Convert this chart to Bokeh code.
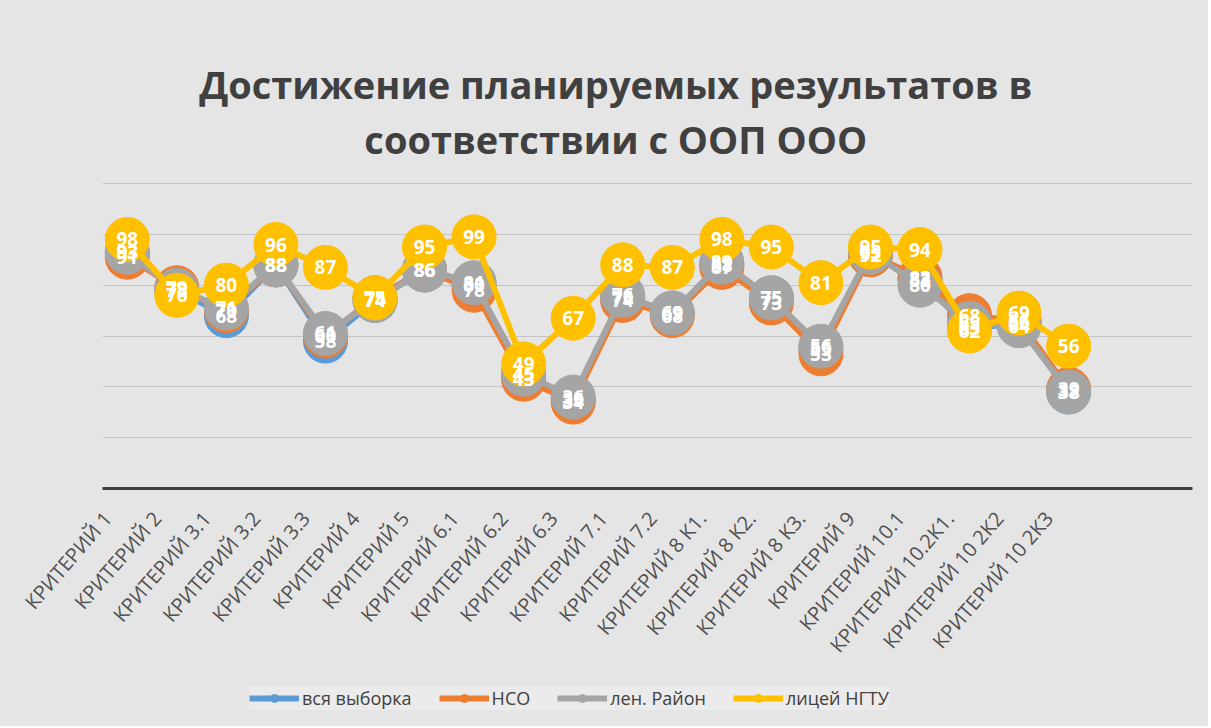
from bokeh.plotting import figure
from bokeh.layouts import column
from bokeh.models import (Range1d, FixedTicker, Label, Legend, LegendItem, ColumnDataSource)
from bokeh.core.properties import value
from bokeh.embed import file_html
from bokeh.resources import INLINE

categories = ["КРИТЕРИЙ 1", "КРИТЕРИЙ 2", "КРИТЕРИЙ 3.1", "КРИТЕРИЙ 3.2", "КРИТЕРИЙ 3.3",
              "КРИТЕРИЙ 4", "КРИТЕРИЙ 5", "КРИТЕРИЙ 6.1", "КРИТЕРИЙ 6.2", "КРИТЕРИЙ 6.3",
              "КРИТЕРИЙ 7.1", "КРИТЕРИЙ 7.2", "КРИТЕРИЙ 8 К1.", "КРИТЕРИЙ 8 К2.", "КРИТЕРИЙ 8 К3.",
              "КРИТЕРИЙ 9", "КРИТЕРИЙ 10.1", "КРИТЕРИЙ 10.2К1.", "КРИТЕРИЙ 10 2К2", "КРИТЕРИЙ 10 2К3"]

vsya_vyborka = [93, 78, 68, 88, 58, 74, 86, 80, 45, 35, 75, 69, 88, 75, 55, 92, 82, 63, 65, 38]
nso          = [91, 79, 70, 88, 60, 75, 86, 78, 43, 34, 74, 68, 87, 73, 53, 92, 83, 68, 66, 39]
len_rayon    = [93, 78, 71, 88, 61, 74, 86, 81, 45, 36, 76, 69, 89, 75, 56, 93, 80, 65, 64, 38]
litsey_ngtu  = [98, 76, 80, 96, 87, 75, 95, 99, 49, 67, 88, 87, 98, 95, 81, 95, 94, 62, 69, 56]

series_names = ["вся выборка", "НСО", "лен. Район", "лицей НГТУ"]
series_values = [vsya_vyborka, nso, len_rayon, litsey_ngtu]
series_colors = ["#5B9BD5", "#ED7D31", "#A5A5A5", "#FFC000"]

grid_values = [20, 40, 60, 80, 100, 120]

title_lines = ["Достижение планируемых результатов в", "соответствии с ООП ООО"]

FONT = "Open Sans"
BG = "#e5e5e5"

xs = list(range(len(categories)))
LABEL_SHIFT = 0.4
tick_pos = [i - LABEL_SHIFT for i in xs]

# ---------- main chart ----------
p = figure(width=1208, height=670, output_backend="svg", toolbar_location=None,
           x_range=Range1d(-0.5, 21.5), y_range=Range1d(0, 192),
           min_border_left=102, min_border_right=16, min_border_top=0, min_border_bottom=182)

p.background_fill_alpha = 0
p.border_fill_color = BG
p.outline_line_color = None

p.yaxis.visible = False
p.xgrid.visible = False
p.ygrid.ticker = FixedTicker(ticks=grid_values)
p.ygrid.grid_line_color = "#c4c4c4"
p.ygrid.grid_line_width = 1.2

p.xaxis.ticker = FixedTicker(ticks=tick_pos)
p.xaxis.major_label_overrides = {t: c for t, c in zip(tick_pos, categories)}
p.xaxis.major_label_orientation = 0.86
p.xaxis.major_label_text_font = FONT
p.xaxis.major_label_text_font_size = "20px"
p.xaxis.major_label_text_color = "#505050"
p.xaxis.major_label_standoff = 20
p.xaxis.major_tick_line_color = None
p.xaxis.minor_tick_line_color = None
p.xaxis.axis_line_color = "#404040"
p.xaxis.axis_line_width = 3

for name, vals, col in zip(series_names, series_values, series_colors):
    src = ColumnDataSource(dict(x=xs, y=vals))
    p.line("x", "y", source=src, line_color=col, line_width=6, line_join="round")
    p.scatter("x", "y", source=src, size=44, fill_color=col, line_color=col)

for vals in series_values:
    src = ColumnDataSource(dict(x=xs, y=vals, t=[str(v) for v in vals]))
    p.text("x", "y", text="t", source=src, text_color="white", text_align="center",
           text_baseline="middle", text_font=value(FONT), text_font_size="19px",
           text_font_style="bold")

p.add_layout(Label(x=9.86, y=159.3, text=title_lines[0], text_align="center",
                   text_baseline="alphabetic", text_font=FONT, text_font_style="bold",
                   text_font_size="38px", text_color="#404040"))
p.add_layout(Label(x=9.86, y=137.7, text=title_lines[1], text_align="center",
                   text_baseline="alphabetic", text_font=FONT, text_font_style="bold",
                   text_font_size="38px", text_color="#404040"))

# ---------- legend strip ----------
p2 = figure(width=1208, height=56, output_backend="svg", toolbar_location=None,
            x_range=Range1d(0, 1), y_range=Range1d(0, 1),
            min_border_left=102, min_border_right=16, min_border_top=0, min_border_bottom=0)
p2.background_fill_alpha = 0
p2.border_fill_color = BG
p2.outline_line_color = None
p2.xaxis.visible = False
p2.yaxis.visible = False
p2.xgrid.visible = False
p2.ygrid.visible = False

items = []
for name, col in zip(series_names, series_colors):
    lr = p2.line(x=[5, 6], y=[5, 5], line_color=col, line_width=6)
    sr = p2.scatter(x=[5], y=[5], size=12, fill_color=col, line_color=col)
    items.append(LegendItem(label=name, renderers=[lr, sr]))

legend = Legend(items=items, orientation="horizontal", location=(147, 16),
                background_fill_color="#ebebeb", background_fill_alpha=1.0,
                border_line_color=None, label_text_font=FONT, label_text_font_size="18px",
                label_text_color="#404040", glyph_width=50, glyph_height=20,
                spacing=27, label_standoff=3, padding=11, margin=0)
p2.add_layout(legend, "center")

layout = column(p, p2, spacing=0, styles={"background-color": BG})
open("out.html", "w").write(file_html(layout, INLINE))
